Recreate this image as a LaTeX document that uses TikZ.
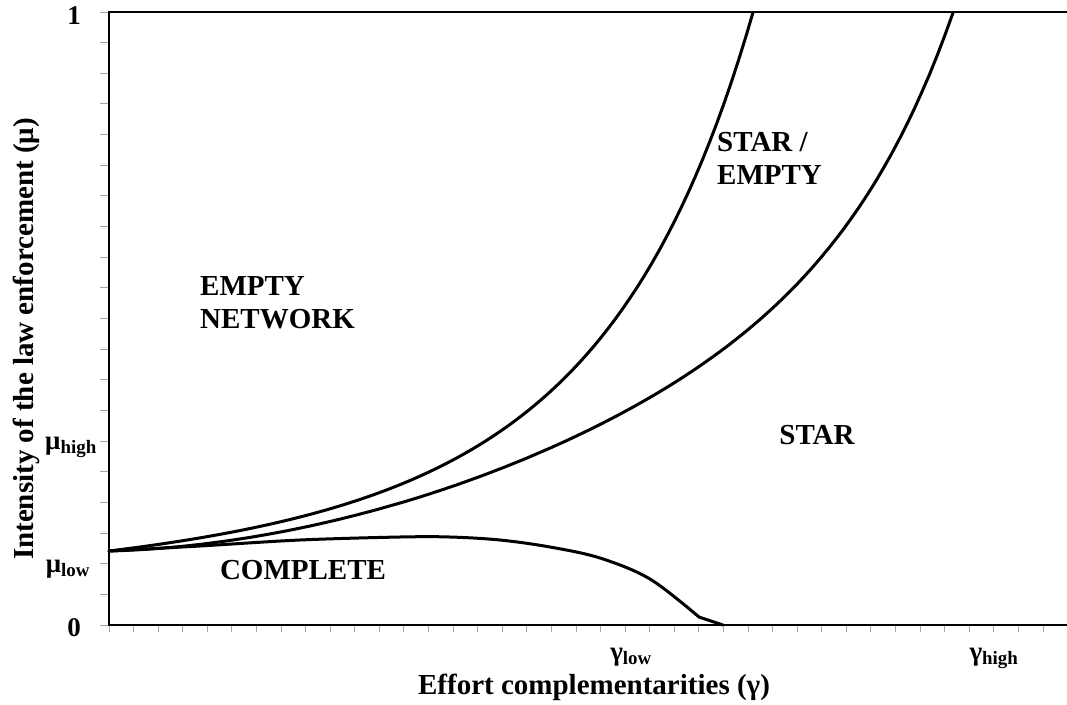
\documentclass[tikz,border=0pt]{standalone}
\usepackage{fontspec}
\setmainfont{Liberation Serif}
\begin{document}
\begin{tikzpicture}[x=1pt,y=-1pt,
  curve/.style={line width=3pt, line join=round, line cap=round},
  axisline/.style={line width=2pt},
  tickmark/.style={line width=1pt, draw=gray!70},
  region/.style={font=\fontsize{29}{33}\selectfont\bfseries, align=left, inner sep=0pt},
  ticklab/.style={font=\fontsize{27}{30}\selectfont\bfseries, inner sep=0pt},
  axtitle/.style={font=\fontsize{29}{33}\selectfont\bfseries, inner sep=0pt},
]
\useasboundingbox (0,0) rectangle (1067,704);
% ticks
\foreach \k in {0,...,20} \draw[tickmark] (100,{625-30.65*\k}) -- (109,{625-30.65*\k});
\foreach \k in {0,...,39} \draw[tickmark] ({109+24.58*\k},625) -- ({109+24.58*\k},632);
% axes / frame
\draw[axisline] (1067,12) -- (109,12) -- (109,625) -- (1067,625);
% boundary curves
\coordinate (o) at (109,551);
\draw[curve] plot[domain=0:6.44, samples=90, variable=\t] ({109+100*\t}, {625-74*exp(0.1662*\t+0.01298*\t*\t+0.001893*\t*\t*\t)});
\draw[curve] plot[domain=0:8.44, samples=110, variable=\t] ({109+100*\t}, {625-74*exp(\t*(0.1718+0.01371*(\t-2.91)-0.000544*(\t-2.91)*(\t-5.74)+0.000717*(\t-2.91)*(\t-5.74)*(\t-7.41)))});
\draw[curve] plot[smooth,tension=0.55] coordinates {(109,551) (200,546) (300,540) (400,537) (450,537) (500,540) (550,547) (600,558) (650,579) (699,617)} -- (723,625);
% tick labels
\node[ticklab] (one) at (74,16) {1};
\node[ticklab] (zero) at (74,628) {0};
\node[ticklab, anchor=base] (muh) at (71,449) {μ\textsubscript{high}};
\node[ticklab, anchor=base] (mul) at (68,572) {μ\textsubscript{low}};
\node[ticklab, anchor=base] (gl) at (631,660) {γ\textsubscript{low}};
\node[ticklab, anchor=base] (gh) at (994,660) {γ\textsubscript{high}};
% axis titles
\node[axtitle, anchor=base] (xt) at (594,694) {Effort complementarities (γ)};
\node[axtitle, anchor=base, rotate=90] (yt) at (33,339) {Intensity of the law enforcement (μ)};
% region labels
\node[region, anchor=north west] (empty) at (200,276) {EMPTY\\NETWORK};
\node[region] (complete) at (303,570) {COMPLETE};
\node[region, anchor=north west] (staremp) at (717,132) {STAR /\\EMPTY};
\node[region] (star) at (817,435) {STAR};
\end{tikzpicture}
\end{document}
